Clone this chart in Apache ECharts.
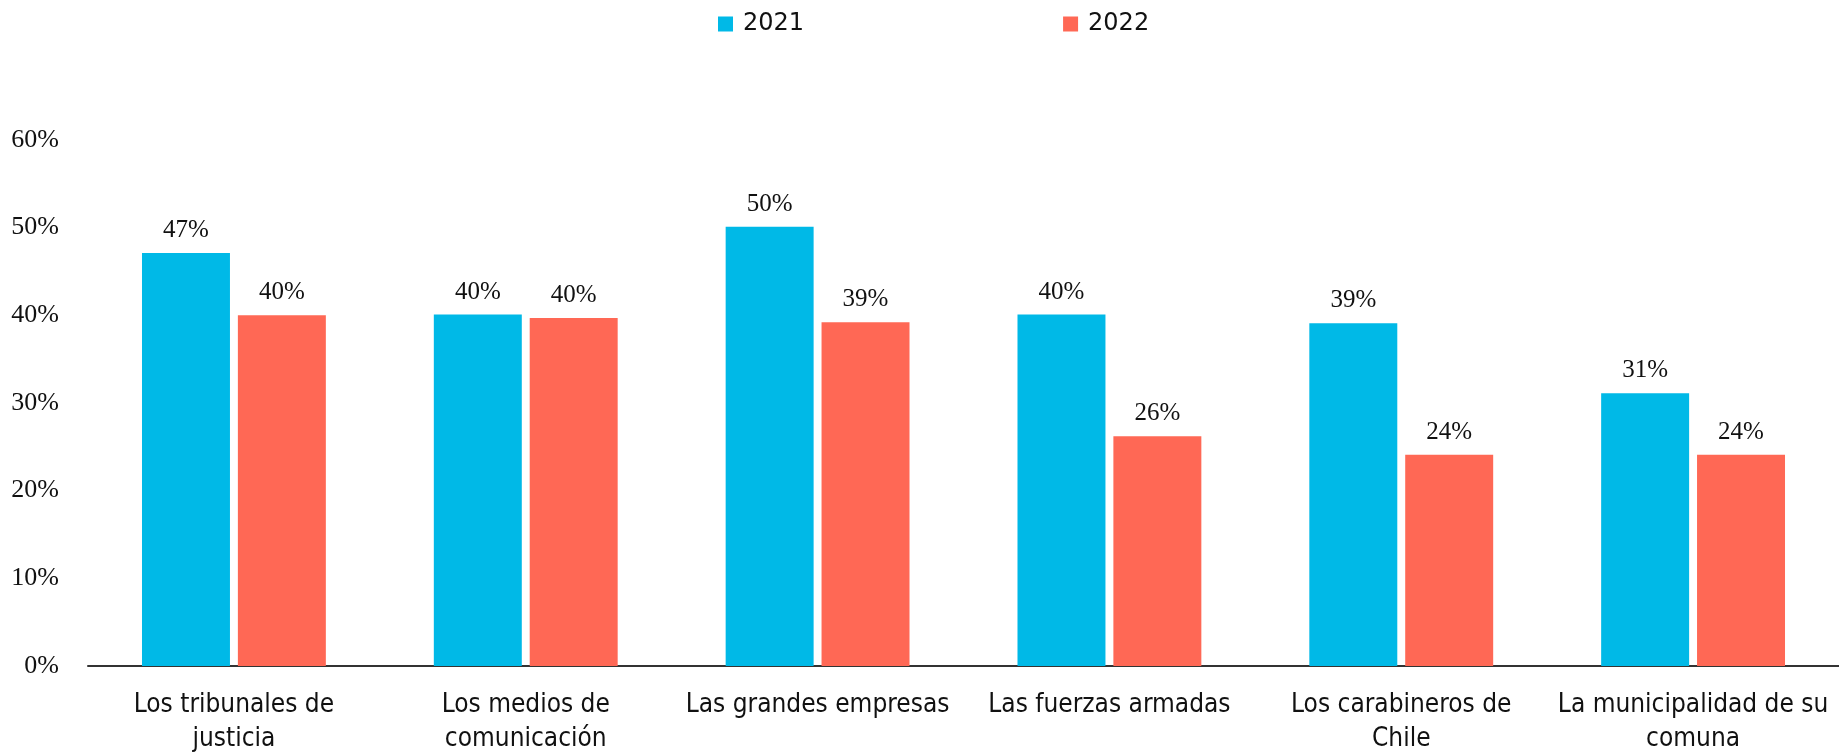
<!DOCTYPE html>
<html>
<head>
<meta charset="utf-8">
<style>html,body{margin:0;padding:0;background:#fff}#c{width:1839px;height:753px}</style>
<script src="https://cdn.jsdelivr.net/npm/echarts@6/dist/echarts.min.js"></script>
</head>
<body>
<div id="c"></div>
<script>
const categories = ['Los tribunales de\njusticia', 'Los medios de\ncomunicación', 'Las grandes empresas', 'Las fuerzas armadas', 'Los carabineros de\nChile', 'La municipalidad de su\ncomuna'];
const seriesNames = ['2021', '2022'];
const values2021 = [47.1, 40.1, 50.1, 40.1, 39.1, 31.1];
const values2022 = [40.0, 39.7, 39.2, 26.2, 24.1, 24.1];
const yTicks = [0, 10, 20, 30, 40, 50, 60];

const serif = '"Liberation Serif", "DejaVu Serif", serif';
const chart = echarts.init(document.getElementById('c'));
const labelStyle = {
  show: true, position: 'top', distance: 10,
  fontFamily: serif, fontSize: 25, color: '#111',
  formatter: p => Math.round(p.value) + '%'
};
chart.setOption({
  animation: false,
  legend: {
    left: 713, top: 7, itemWidth: 15, itemHeight: 15, itemGap: 259,
    icon: 'rect',
    textStyle: { fontFamily: '"DejaVu Sans", sans-serif', fontSize: 24, color: '#111', padding: [0, 0, 0, 5] },
    data: seriesNames
  },
  grid: { left: 88, right: 0, top: 140, bottom: 87, containLabel: false, outerBoundsMode: 'none' },
  xAxis: {
    type: 'category', data: categories,
    axisTick: { show: false },
    axisLine: { lineStyle: { color: '#333', width: 2 } },
    axisLabel: {
      margin: 22, interval: 0, lineHeight: 34,
      fontFamily: '"Liberation Sans Narrow", "DejaVu Sans Condensed", sans-serif',
      fontSize: 26, color: '#111'
    }
  },
  yAxis: {
    type: 'value', min: yTicks[0], max: yTicks[yTicks.length - 1], interval: 10,
    splitLine: { show: false }, axisLine: { show: false }, axisTick: { show: false },
    axisLabel: { margin: 29, fontFamily: serif, fontSize: 26, color: '#111', formatter: v => v + '%' }
  },
  series: [
    { name: seriesNames[0], type: 'bar', data: values2021, itemStyle: { color: '#00B9E7' },
      barCategoryGap: '37%', barGap: '9%', label: labelStyle },
    { name: seriesNames[1], type: 'bar', data: values2022, itemStyle: { color: '#FF6855' },
      barCategoryGap: '37%', barGap: '9%', label: labelStyle }
  ]
});
</script>
</body>
</html>
